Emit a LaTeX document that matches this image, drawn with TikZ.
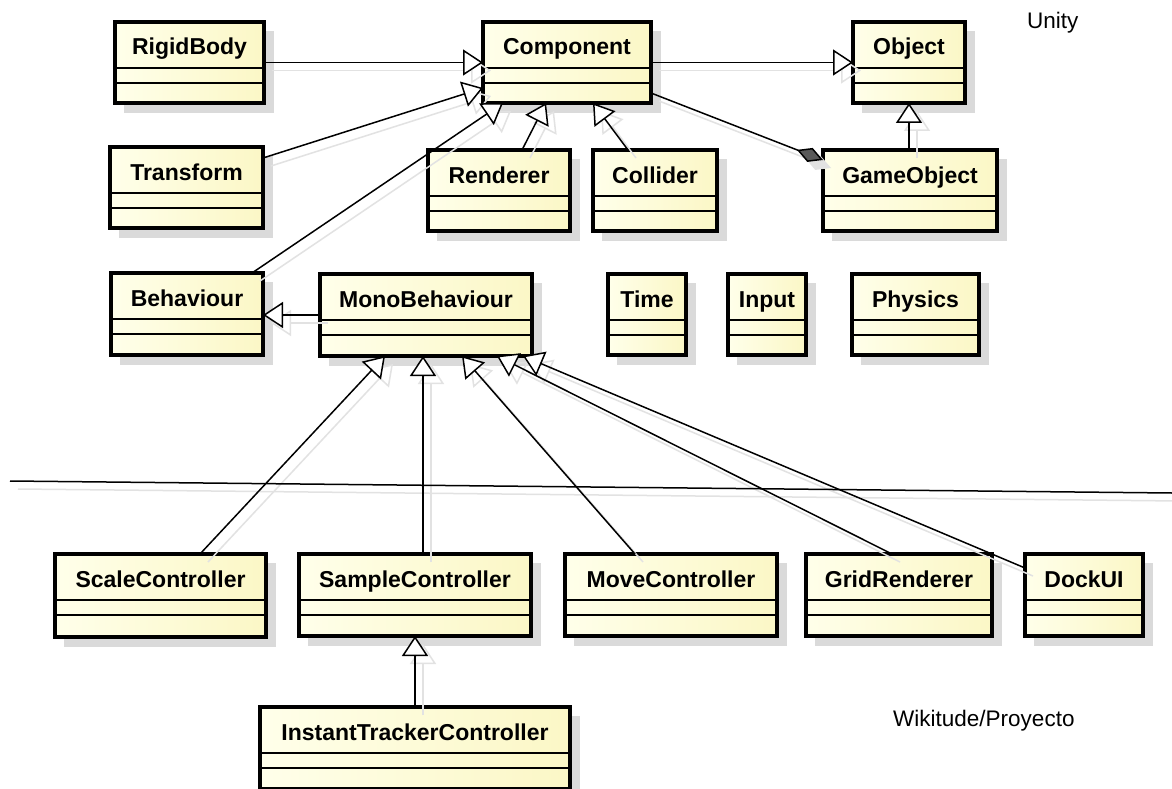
\documentclass[tikz,border=0pt]{standalone}
\usepackage{fontspec}
\setmainfont{Liberation Sans}
\usetikzlibrary{arrows.meta,calc}

\definecolor{boxleft}{RGB}{255,255,234}
\definecolor{boxright}{RGB}{251,247,198}
\definecolor{shade}{RGB}{218,218,218}
\definecolor{lineshade}{RGB}{226,226,226}

\tikzset{
  classbox/.style={draw=black, line width=3.2pt, rectangle, inner sep=0pt, outer sep=0pt,
    left color=boxleft, right color=boxright},
  classname/.style={font=\fontsize{23}{23}\selectfont\bfseries, anchor=base, inner sep=0pt},
  compline/.style={draw=black, line width=1.2pt},
  boxshade/.style={fill=shade},
  gen/.style={draw=black, line width=1.5pt,
    -{Triangle[length=20pt,width=26pt,fill=white]}},
  compo/.style={draw=black, line width=1.5pt,
    -{Diamond[length=28pt,width=15pt,fill=black!65]}},
  sepline/.style={draw=black, line width=1.5pt},
  shadegen/.style={draw=lineshade, line width=1.5pt,
    -{Triangle[length=20pt,width=26pt,open]}},
  shadecompo/.style={draw=lineshade, line width=1.5pt,
    -{Diamond[length=28pt,width=15pt,fill=lineshade]}},
  shadesep/.style={draw=lineshade, line width=1.5pt},
  pkglabel/.style={font=\fontsize{22.5}{22.5}\selectfont, anchor=base west, inner sep=0pt}
}

% A UML class: name, left, top, right, bottom, title
\newcommand\umlclass[6]{%
  \pgfmathsetmacro\clsw{#4-#2}%
  \pgfmathsetmacro\clsh{#5-#3}%
  \fill[boxshade] (#2+9,#3+9) rectangle (#4+10,#5+10);
  \node[classbox, anchor=north west, minimum width=\clsw pt, minimum height=\clsh pt] (#1) at (#2,#3) {};
  \node[classname] (#1-name) at ($(#1.north)+(0,33)$) {#6};
  \draw[compline] ($(#1.north west)+(0,46)$) -- ($(#1.north east)+(0,46)$);
  \draw[compline] ($(#1.north west)+(0,61)$) -- ($(#1.north east)+(0,61)$);
}

% All relations between the classes
\newcommand\umllinks{%
  \draw[sep] (sepL) -- (sepR);
  \draw[gen] (rigid.east) -- (comp.west);
  \draw[gen] (comp.east) -- (obj.west);
  \draw[gen] ($(trans.north east)+(0,11)$) -- ($(comp.north west)+(0,66)$);
  \draw[gen] ($(beh.north west)+(141,0)$) -- ($(comp.south west)+(20,0)$);
  \draw[gen] ($(rend.north west)+(94,0)$) -- ($(comp.south west)+(63,0)$);
  \draw[gen] ($(coll.north west)+(35,0)$) -- ($(comp.south west)+(110,0)$);
  \draw[compo] ($(comp.north east)+(0,71)$) -- ($(gobj.north west)+(0,10)$);
  \draw[gen] (obj.south |- gobj.north) -- (obj.south);
  \draw[gen] (mono.west) -- (mono.west -| beh.east);
  \draw[gen] ($(scale.north west)+(145,0)$) -- ($(mono.south west)+(65,0)$);
  \draw[gen] ($(sample.north west)+(124,0)$) -- ($(mono.south west)+(103,0)$);
  \draw[gen] ($(move.north west)+(70,0)$) -- ($(mono.south west)+(142,0)$);
  \draw[gen] ($(grid.north west)+(86,0)$) -- ($(mono.south west)+(177,0)$);
  \draw[gen] ($(dock.north west)+(0,14)$) -- ($(mono.south west)+(203,0)$);
  \draw[gen] (itc.north) -- (itc.north |- sample.south);
}

\begin{document}
\begin{tikzpicture}[x=1pt,y=-1pt]
  \fill[white] (0,0) rectangle (1172,789);
  \useasboundingbox (0,0) rectangle (1172,789);

  % Unity classes
  \umlclass{rigid}{115}{22}{264}{103}{RigidBody}
  \umlclass{comp}{483}{22}{651}{103}{Component}
  \umlclass{obj}{853}{22}{965}{103}{Object}
  \umlclass{trans}{110}{147}{263}{228}{Transform}
  \umlclass{rend}{428}{150}{570}{231}{Renderer}
  \umlclass{coll}{593}{150}{717}{231}{Collider}
  \umlclass{gobj}{823}{150}{997}{231}{GameObject}
  \umlclass{beh}{111}{273}{263}{355}{Behaviour}
  \umlclass{mono}{320}{274}{532}{356}{MonoBehaviour}
  \umlclass{time}{608}{274}{686}{355}{Time}
  \umlclass{input}{728}{274}{806}{355}{Input}
  \umlclass{phys}{852}{274}{979}{355}{Physics}

  % Project classes
  \umlclass{scale}{55}{554}{266}{637}{ScaleController}
  \umlclass{sample}{299}{554}{531}{636}{SampleController}
  \umlclass{move}{565}{554}{777}{636}{MoveController}
  \umlclass{grid}{806}{554}{992}{636}{GridRenderer}
  \umlclass{dock}{1025}{554}{1143}{636}{DockUI}
  \umlclass{itc}{260}{707}{570}{789}{InstantTrackerController}

  % package divider
  \coordinate (sepL) at (10,481);
  \coordinate (sepR) at (1172,493);

  % soft shadows of the relations, then the relations themselves
  \begin{scope}[transform canvas={shift={(8pt,-8pt)}},
      gen/.style={shadegen}, compo/.style={shadecompo}, sep/.style={shadesep}]
    \umllinks
  \end{scope}
  \begin{scope}[sep/.style={sepline}]
    \umllinks
  \end{scope}

  \node[pkglabel] (unity) at (1027,29) {Unity};
  \node[pkglabel] (proj) at (893,726) {Wikitude/Proyecto};
\end{tikzpicture}
\end{document}
